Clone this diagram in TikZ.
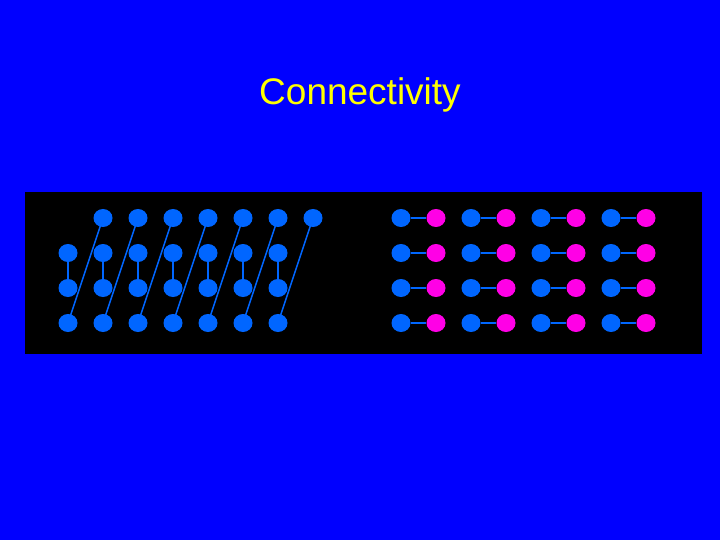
\documentclass[tikz,border=0pt]{standalone}
\usepackage{fontspec}
\usetikzlibrary{shapes.geometric}
\setmainfont{Liberation Sans}
\definecolor{bg}{RGB}{0,0,255}
\definecolor{nb}{RGB}{0,102,255}
\definecolor{nm}{RGB}{255,0,230}
\definecolor{ty}{RGB}{255,255,0}
\begin{document}
\begin{tikzpicture}[x=1pt,y=-1pt,
  dot/.style={ellipse,minimum width=19pt,minimum height=18pt,inner sep=0pt},
  bdot/.style={dot,fill=nb},
  mdot/.style={dot,fill=nm},
  link/.style={draw=nb,line width=1.5pt}]
\fill[bg] (0,0) rectangle (720,540);
\useasboundingbox (0,0) rectangle (720,540);
\node[text=ty,font=\fontsize{37}{42}\selectfont] (title) at (360,95) {Connectivity};
\fill[black] (25,192) rectangle (702,354);
\foreach \i in {0,...,6}{
  \pgfmathsetmacro{\xb}{68+35*\i}
  \pgfmathsetmacro{\xt}{103+35*\i}
  \draw[link] (\xt,218) -- (\xb,323);
  \draw[link] (\xb,253) -- (\xb,288);
  \node[bdot] (t\i) at (\xt,218) {};
  \node[bdot] (a\i) at (\xb,253) {};
  \node[bdot] (b\i) at (\xb,288) {};
  \node[bdot] (c\i) at (\xb,323) {};
}
\foreach \j in {0,...,3}{
  \foreach \r in {0,...,3}{
    \pgfmathsetmacro{\xx}{401+70*\j}
    \pgfmathsetmacro{\yy}{218+35*\r}
    \node[bdot] (p\j\r) at (\xx,\yy) {};
    \node[mdot] (q\j\r) at (\xx+35,\yy) {};
    \draw[link] (p\j\r) -- (q\j\r);
  }
}
\end{tikzpicture}
\end{document}
